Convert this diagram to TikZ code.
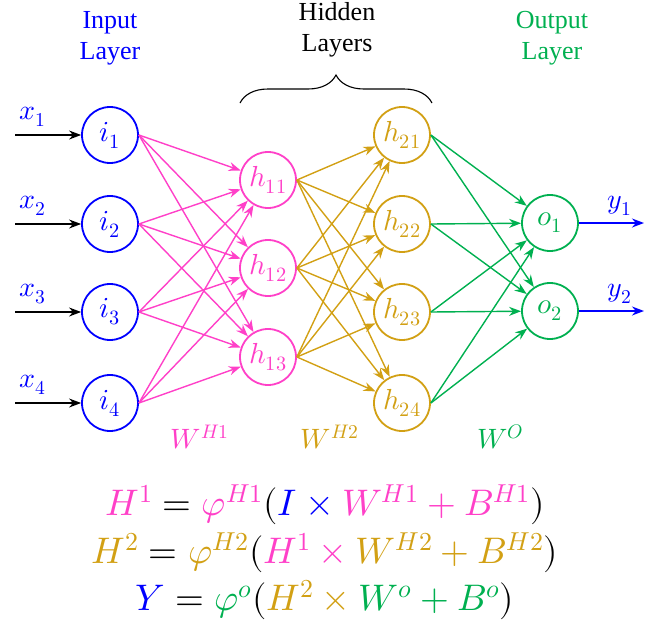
\documentclass[tikz,border=0pt]{standalone}
\usepackage{amsmath}
\usepackage{fontspec}
\usepackage{unicode-math}
\setmainfont{Liberation Serif}
\setmathfont{Latin Modern Math}
\usepackage{tikz}
\usetikzlibrary{arrows.meta,positioning,decorations.pathreplacing}
\definecolor{inblue}{RGB}{0,0,255}
\definecolor{hpink}{RGB}{255,64,200}
\definecolor{hgold}{RGB}{210,160,20}
\definecolor{ogreen}{RGB}{0,176,80}
\tikzset{
  neuron/.style={draw=#1,text=#1,circle,line width=1.8pt,minimum size=56pt,inner sep=0pt,fill=white,font=\fontsize{29}{32}\selectfont},
  arr/.style={-{Stealth[length=12pt,width=9pt]},line width=1.4pt},
  ttl/.style={align=center,font=\fontsize{26}{31}\selectfont},
  wlbl/.style={font=\fontsize{28}{30}\selectfont},
  eqn/.style={font=\fontsize{37}{42}\selectfont},
}
\newcommand{\cl}[2]{\textcolor{#1}{#2}}
\newcommand{\cb}[2]{\mathbin{\textcolor{#1}{#2}}}

\begin{document}
\begin{tikzpicture}[x=1pt,y=1pt]
 \useasboundingbox (0,0) rectangle (657,-632);
 % layers
 \foreach \n/\y in {1/135,2/224,3/312,4/403}{
  \node[neuron=inblue] (i\n) at (110,-\y) {$i_{\n}$};
  \node[neuron=hgold] (h2\n) at (402,-\y) {$h_{2\n}$};
  \coordinate (xs\n) at (15,-\y);
  \node[text=inblue,wlbl] (xl\n) at (33,-\y+18) {$x_{\n}$};
 }
 \foreach \n/\y in {1/180,2/268,3/357}
  \node[neuron=hpink] (h1\n) at (268,-\y) {$h_{1\n}$};
 \foreach \n/\y in {1/223,2/311}{
  \node[neuron=ogreen] (o\n) at (550,-\y) {$o_{\n}$};
  \coordinate (ye\n) at (644,-\y);
  \node[text=inblue,wlbl] (yl\n) at (620,-\y+17) {$y_{\n}$};
 }
 % connections
 \foreach \n in {1,...,4} \draw[arr] (xs\n) -- (i\n);
 \foreach \a in {1,...,4} \foreach \b in {1,2,3} \draw[arr,hpink] (i\a.east) -- (h1\b);
 \foreach \a in {1,2,3} \foreach \b in {1,...,4} \draw[arr,hgold] (h1\a.east) -- (h2\b);
 \foreach \a in {1,...,4} \foreach \b in {1,2} \draw[arr,ogreen] (h2\a.east) -- (o\b);
 \foreach \n in {1,2} \draw[arr,inblue] (o\n) -- (ye\n);
 % titles
 \node[ttl,text=inblue] (tin) at (110,-38) {Input\\Layer};
 \node[ttl] (thid) at (337,-30) {Hidden\\Layers};
 \node[ttl,text=ogreen] (tout) at (552,-38) {Output\\Layer};
 \coordinate (bl) at (240,-103); \coordinate (br) at (432,-103);
 \draw[decorate,decoration={brace,amplitude=28pt},line width=1.1pt] (bl) -- (br);
 % weights
 \node[wlbl,text=hpink] (w1) at (200,-437) {$W^{H1}$};
 \node[wlbl,text=hgold] (w2) at (330,-437) {$W^{H2}$};
 \node[wlbl,text=ogreen] (w3) at (500,-437) {$W^{O}$};
 % equations
 \node[eqn] (eq1) at (325,-505) {$\cl{hpink}{H^1} = \cl{hpink}{\varphi^{H1}}(\cl{inblue}{I}\cb{inblue}{\times}\cl{hpink}{W^{H1}}\cb{hpink}{+}\cl{hpink}{B^{H1}})$};
 \node[eqn] (eq2) at (325,-553) {$\cl{hgold}{H^2} = \cl{hgold}{\varphi^{H2}}(\cl{hpink}{H^1}\cb{hpink}{\times}\cl{hgold}{W^{H2}}\cb{hgold}{+}\cl{hgold}{B^{H2}})$};
 \node[eqn] (eq3) at (325,-600) {$\cl{inblue}{Y} = \cl{ogreen}{\varphi^{o}}(\cl{hgold}{H^2}\cb{hgold}{\times}\cl{ogreen}{W^{o}}\cb{ogreen}{+}\cl{ogreen}{B^{o}})$};
\end{tikzpicture}
\end{document}
